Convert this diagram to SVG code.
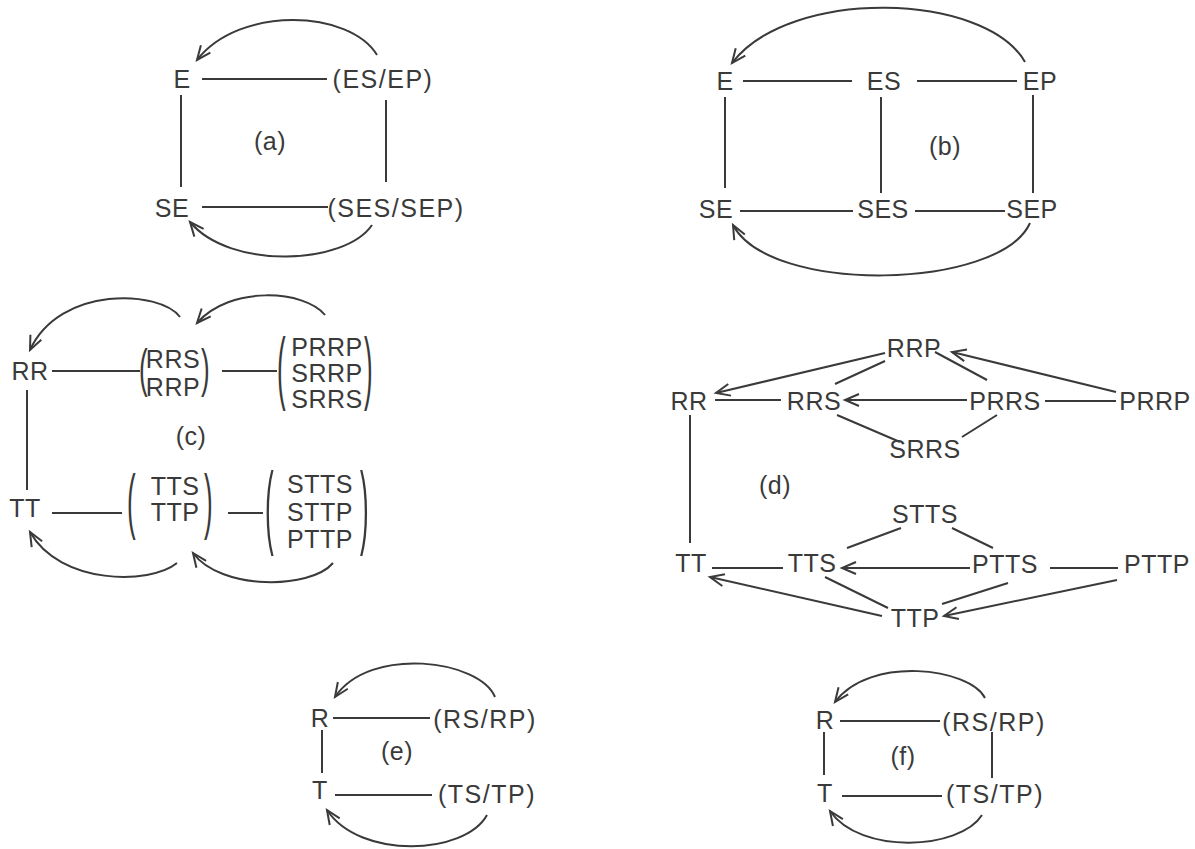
<svg xmlns="http://www.w3.org/2000/svg" width="1195" height="849" viewBox="0 0 1195 849">
<style>
.t{font-family:"Liberation Sans",Arial,sans-serif;font-size:25px;fill:#3a3a3a;text-anchor:middle;letter-spacing:0.5px}
.w{letter-spacing:1.5px}
.p{font-family:"Liberation Sans",Arial,sans-serif;font-size:26px;fill:#3a3a3a}
.l{fill:none;stroke:#3a3a3a;stroke-width:2}
.a{fill:none;stroke:#3a3a3a;stroke-width:2;marker-end:url(#ah)}
</style>
<defs>
<marker id="ah" markerUnits="userSpaceOnUse" markerWidth="20" markerHeight="20" viewBox="-16 -10 20 20" refX="0" refY="0" orient="auto" overflow="visible">
<path d="M-14,-6 L0,0 L-14,6" fill="none" stroke="#3a3a3a" stroke-width="2"/>
</marker>
</defs>
<rect width="1195" height="849" fill="#ffffff"/>

<g id="connectors">
<!-- (a) -->
<path class="l" d="M202,79 H327"/>
<path class="l" d="M181,95 V187"/>
<path class="l" d="M386,100 V182"/>
<path class="l" d="M202,207 H328"/>
<path class="a" d="M377,55 C350,10 240,5 197,60"/>
<path class="a" d="M372,225 C345,265 230,270 190,222"/>
<!-- (b) -->
<path class="l" d="M743,81 H852"/>
<path class="l" d="M917,81 H1017"/>
<path class="l" d="M725,97 V188"/>
<path class="l" d="M881,97 V193"/>
<path class="l" d="M1033,95 V193"/>
<path class="l" d="M740,211 H853"/>
<path class="l" d="M915,211 H1005"/>
<path class="a" d="M1025,62 C985,-8 790,-13 732,63"/>
<path class="a" d="M1030,223 C1000,290 770,295 733,225"/>
<!-- (c) -->
<path class="l" d="M52,371 H140"/>
<path class="l" d="M222,371 H277"/>
<path class="l" d="M27,390 V490"/>
<path class="l" d="M52,513 H122"/>
<path class="l" d="M228,513 H263"/>
<path class="a" d="M180,317 C160,290 60,285 30,350"/>
<path class="a" d="M325,315 C305,290 230,285 197,323"/>
<path class="a" d="M177,563 C150,585 60,585 30,532"/>
<path class="a" d="M333,563 C310,590 220,590 193,553"/>
<!-- (d) -->
<path class="a" d="M885,353 L716,393"/>
<path class="l" d="M885,361 L835,384"/>
<path class="l" d="M935,352 L987,380"/>
<path class="a" d="M1116,392 L952,352"/>
<path class="l" d="M715,400 H781"/>
<path class="a" d="M967,400 H845"/>
<path class="l" d="M1045,401 H1116"/>
<path class="l" d="M837,415 L900,442"/>
<path class="l" d="M997,415 L962,437"/>
<path class="l" d="M690,415 V543"/>
<path class="l" d="M901,528 L847,548"/>
<path class="l" d="M952,528 L993,548"/>
<path class="l" d="M712,568 H783"/>
<path class="a" d="M970,568 H842"/>
<path class="l" d="M1050,568 H1118"/>
<path class="a" d="M882,616 L710,577"/>
<path class="l" d="M825,577 L888,608"/>
<path class="l" d="M1008,583 L942,604"/>
<path class="a" d="M1117,580 L944,616"/>
<!-- (e) -->
<path class="l" d="M333,718 H430"/>
<path class="l" d="M322,730 V773"/>
<path class="l" d="M335,795 H432"/>
<path class="a" d="M495,697 C480,660 370,645 335,697"/>
<path class="a" d="M487,815 C465,855 360,860 327,810"/>
<!-- (f) -->
<path class="l" d="M840,721 H940"/>
<path class="l" d="M824,732 V775"/>
<path class="l" d="M992,732 V778"/>
<path class="l" d="M842,796 H942"/>
<path class="a" d="M985,698 C970,668 870,655 835,702"/>
<path class="a" d="M982,815 C960,850 860,855 830,811"/>
</g>

<!-- (a) -->
<g id="a-E"><text class="t" x="182" y="88">E</text></g>
<g id="a-ESEP"><text class="t w" x="383" y="88">(ES/EP)</text></g>
<g id="a-SE"><text class="t" x="172" y="217">SE</text></g>
<g id="a-SESSEP"><text class="t w" x="396" y="217">(SES/SEP)</text></g>
<g id="label-a"><text class="t" x="270" y="150">(a)</text></g>

<!-- (b) -->
<g id="b-E"><text class="t" x="725" y="90">E</text></g>
<g id="b-ES"><text class="t" x="884" y="90">ES</text></g>
<g id="b-EP"><text class="t" x="1040" y="90">EP</text></g>
<g id="b-SE"><text class="t" x="716" y="218">SE</text></g>
<g id="b-SES"><text class="t" x="883" y="218">SES</text></g>
<g id="b-SEP"><text class="t" x="1032" y="218">SEP</text></g>
<g id="label-b"><text class="t" x="945" y="155">(b)</text></g>

<!-- (c) -->
<g id="c-RR"><text class="t" x="30" y="380">RR</text></g>
<g id="c-RRS-RRP">
<text class="p" transform="translate(139,385.8) scale(1,2)">(</text>
<text class="t" x="173" y="368">RRS</text>
<text class="t" x="173" y="396">RRP</text>
<text class="p" transform="translate(201,385.8) scale(1,2)">)</text>
</g>
<g id="c-PRRP-SRRP-SRRS">
<text class="p" transform="translate(277,394) scale(1,3.05)">(</text>
<text class="t" x="327" y="356">PRRP</text>
<text class="t" x="327" y="382">SRRP</text>
<text class="t" x="327" y="408">SRRS</text>
<text class="p" transform="translate(364,394) scale(1,3.05)">)</text>
</g>
<g id="label-c"><text class="t" x="191" y="445">(c)</text></g>
<g id="c-TT"><text class="t" x="25" y="517">TT</text></g>
<g id="c-TTS-TTP">
<text class="p" transform="translate(127,524.7) scale(1,2.79)">(</text>
<text class="t" x="175" y="495">TTS</text>
<text class="t" x="175" y="521">TTP</text>
<text class="p" transform="translate(204,524.7) scale(1,2.79)">)</text>
</g>
<g id="c-STTS-STTP-PTTP">
<text class="p" transform="translate(265,537.4) scale(1,3.57)">(</text>
<text class="t" x="320" y="493">STTS</text>
<text class="t" x="320" y="521">STTP</text>
<text class="t" x="320" y="548">PTTP</text>
<text class="p" transform="translate(360,537.4) scale(1,3.57)">)</text>
</g>

<!-- (d) -->
<g id="d-RRP"><text class="t" x="914" y="357">RRP</text></g>
<g id="d-RR"><text class="t" x="689" y="410">RR</text></g>
<g id="d-RRS"><text class="t" x="814" y="410">RRS</text></g>
<g id="d-PRRS"><text class="t" x="1005" y="410">PRRS</text></g>
<g id="d-PRRP"><text class="t" x="1155" y="410">PRRP</text></g>
<g id="d-SRRS"><text class="t" x="925" y="458">SRRS</text></g>
<g id="label-d"><text class="t" x="775" y="494">(d)</text></g>
<g id="d-STTS"><text class="t" x="925" y="523">STTS</text></g>
<g id="d-TT"><text class="t" x="691" y="572">TT</text></g>
<g id="d-TTS"><text class="t" x="812" y="572">TTS</text></g>
<g id="d-PTTS"><text class="t" x="1005" y="573">PTTS</text></g>
<g id="d-PTTP"><text class="t" x="1157" y="573">PTTP</text></g>
<g id="d-TTP"><text class="t" x="915" y="627">TTP</text></g>

<!-- (e) -->
<g id="e-R"><text class="t" x="320" y="727">R</text></g>
<g id="e-RSRP"><text class="t w" x="485" y="728">(RS/RP)</text></g>
<g id="label-e"><text class="t" x="397" y="760">(e)</text></g>
<g id="e-T"><text class="t" x="320" y="799">T</text></g>
<g id="e-TSTP"><text class="t w" x="487" y="803">(TS/TP)</text></g>

<!-- (f) -->
<g id="f-R"><text class="t" x="825" y="729">R</text></g>
<g id="f-RSRP"><text class="t w" x="994" y="731">(RS/RP)</text></g>
<g id="label-f"><text class="t" x="903" y="765">(f)</text></g>
<g id="f-T"><text class="t" x="825" y="802">T</text></g>
<g id="f-TSTP"><text class="t w" x="995" y="803">(TS/TP)</text></g>
</svg>
